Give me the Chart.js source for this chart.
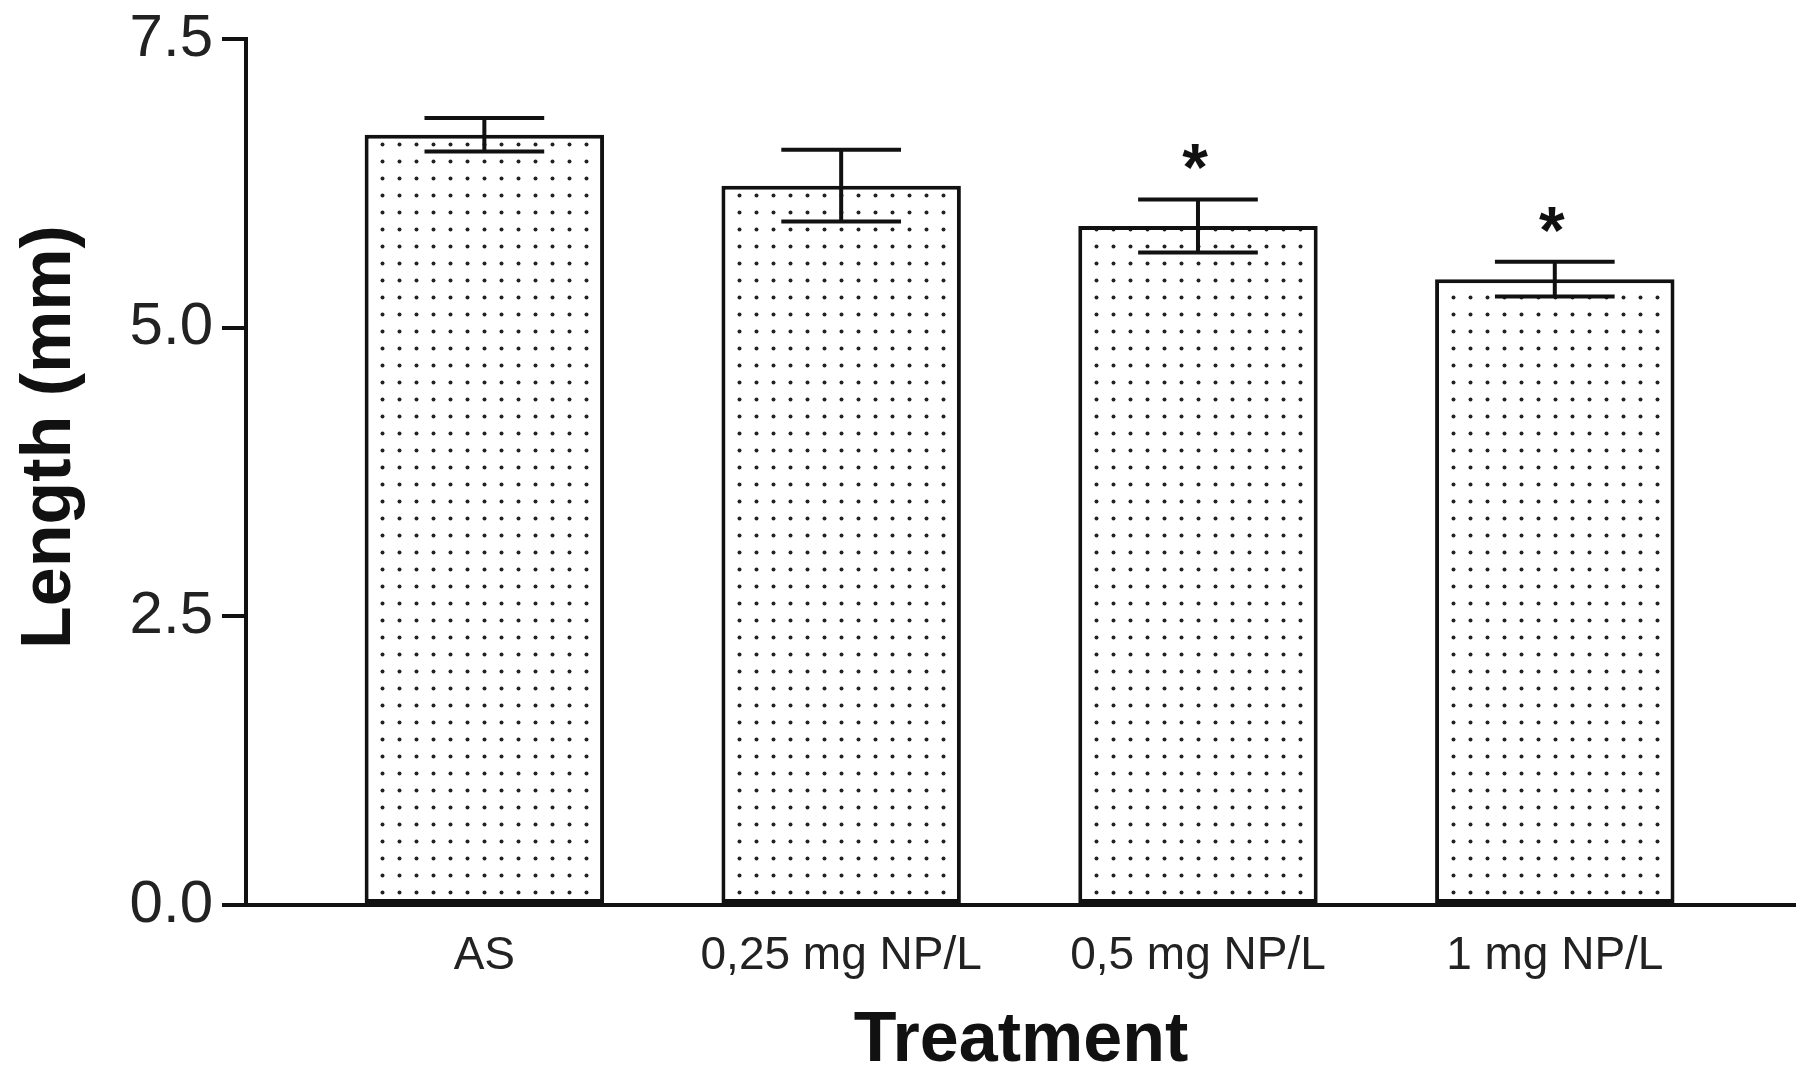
<!DOCTYPE html>
<html lang="en">
<head>
<meta charset="UTF-8">
<title>Length by treatment</title>
<script src="https://cdn.jsdelivr.net/npm/chart.js"></script>
<style>
    body { margin: 0; background: #fff; }
</style>
</head>
<body>
<canvas id="lengthChart" width="1796" height="1086"></canvas>
<script>
    // treatment groups, mean length (mm) and SEM
    const categories = ['AS', '0,25 mg NP/L', '0,5 mg NP/L', '1 mg NP/L'];
    const means = [6.67, 6.23, 5.88, 5.42];
    const errors = [0.145, 0.31, 0.23, 0.15];
    const significant = [false, false, true, true];
    const yTicks = [0, 2.5, 5.0, 7.5];

    const FONT = "'Liberation Sans', Arial, sans-serif";
    const INK = '#111';

    // dotted fill of the bars
    function dotPattern() {
        const c = document.createElement('canvas');
        c.width = 17;
        c.height = 17;
        const g = c.getContext('2d');
        g.fillStyle = '#fff';
        g.fillRect(0, 0, 17, 17);
        g.fillStyle = '#222';
        g.beginPath();
        g.arc(8.5, 8.5, 2, 0, Math.PI * 2);
        g.fill();
        return g.createPattern(c, 'repeat');
    }

    // error bars (both directions) and significance stars
    const errorBars = {
        id: 'errorBars',
        afterDatasetsDraw(chart) {
            const ctx = chart.ctx;
            const y = chart.scales.y;
            const meta = chart.getDatasetMeta(0);
            ctx.save();
            ctx.strokeStyle = INK;
            ctx.lineWidth = 4;
            meta.data.forEach((bar, i) => {
                const top = y.getPixelForValue(means[i] + errors[i]);
                const bot = y.getPixelForValue(means[i] - errors[i]);
                const half = bar.width / 4;
                ctx.beginPath();
                ctx.moveTo(bar.x, top); ctx.lineTo(bar.x, bot);
                ctx.moveTo(bar.x - half, top); ctx.lineTo(bar.x + half, top);
                ctx.moveTo(bar.x - half, bot); ctx.lineTo(bar.x + half, bot);
                ctx.stroke();
                if (significant[i]) {
                    ctx.fillStyle = INK;
                    ctx.font = 'bold 66px ' + FONT;
                    ctx.textAlign = 'center';
                    ctx.textBaseline = 'alphabetic';
                    ctx.fillText('*', bar.x - 3, top - 9);
                }
            });
            ctx.restore();
        }
    };

    // y axis title sits a bit above the axis middle in the original
    const yTitle = {
        id: 'yTitle',
        afterDraw(chart) {
            const ctx = chart.ctx;
            ctx.save();
            ctx.translate(51, 437);
            ctx.rotate(-Math.PI / 2);
            ctx.fillStyle = INK;
            ctx.font = 'bold 70px ' + FONT;
            ctx.textAlign = 'center';
            ctx.textBaseline = 'middle';
            ctx.fillText('Length (mm)', 0, 0);
            ctx.restore();
        }
    };

    new Chart(document.getElementById('lengthChart'), {
        type: 'bar',
        data: {
            datasets: [{
                data: means.map((v, i) => ({ x: i, y: v })),
                backgroundColor: dotPattern(),
                borderColor: INK,
                borderWidth: 4,
                borderSkipped: false,
                barPercentage: 1,
                categoryPercentage: 0.671
            }]
        },
        options: {
            responsive: false,
            animation: false,
            layout: { padding: { top: 37, left: 0, right: 0, bottom: 0 } },
            plugins: {
                legend: { display: false },
                tooltip: { enabled: false }
            },
            scales: {
                x: {
                    type: 'linear',
                    min: -0.668,
                    max: 3.676,
                    offset: false,
                    grid: { display: false, drawTicks: false, offset: false },
                    border: { display: true, color: INK, width: 4 },
                    afterBuildTicks: s => { s.ticks = categories.map((_, i) => ({ value: i })); },
                    ticks: {
                        autoSkip: false,
                        maxRotation: 0,
                        padding: 24,
                        color: '#222',
                        font: { family: FONT, size: 46 },
                        callback: v => categories[v]
                    },
                    title: {
                        display: true,
                        text: 'Treatment',
                        color: INK,
                        font: { family: FONT, size: 70, weight: 'bold' },
                        padding: { top: 0, bottom: 2 }
                    },
                    afterFit: s => { s.height = 181; }
                },
                y: {
                    min: 0,
                    max: 7.5,
                    afterBuildTicks: s => { s.ticks = yTicks.map(v => ({ value: v })); },
                    grid: { display: true, drawOnChartArea: false, drawTicks: true, tickLength: 24, lineWidth: 4, color: INK },
                    border: { display: true, color: INK, width: 4 },
                    ticks: {
                        padding: 9,
                        color: '#222',
                        font: { family: FONT, size: 60, lineHeight: 1 },
                        callback: v => v.toFixed(1)
                    },
                    afterFit: s => { s.width = 246; }
                }
            }
        },
        plugins: [errorBars, yTitle]
    });
</script>
</body>
</html>
